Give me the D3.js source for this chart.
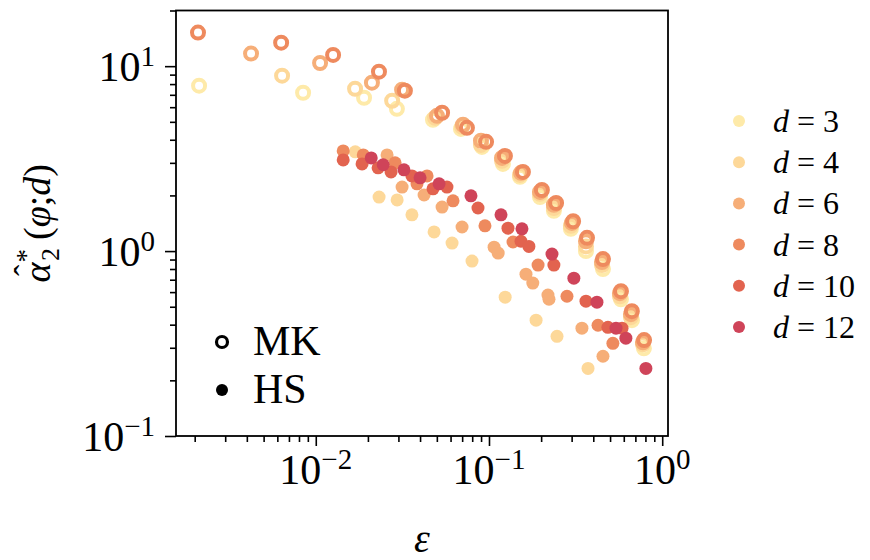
<!DOCTYPE html>
<html>
<head>
<meta charset="utf-8">
<script src="https://cdn.jsdelivr.net/npm/d3@7"></script>
<style>
  body { margin: 0; background: #fff; }
  svg text { font-family: "Liberation Serif", "DejaVu Serif", serif; fill: #000; }
</style>
</head>
<body>
<div id="chart"></div>
<script>
const WIDTH = 870, HEIGHT = 560;
const PLOT = { left: 176, right: 668, top: 10.5, bottom: 436 };

// dimension values and their colours
const D_VALUES = [3, 4, 6, 8, 10, 12];
const D_COLORS = ["#feeaa9", "#fdd899", "#f6ae78", "#ee8a5e", "#e2634f", "#cf4459"];

// MK estimator (open rings)
const mkEpsD3   = [0.00212, 0.00845, 0.0190, 0.0294, 0.0475, 0.0689, 0.0911, 0.1204, 0.151, 0.197, 0.237, 0.297, 0.363, 0.455, 0.578, 0.669, 0.784];
const mkAlphaD3 = [7.84, 7.18, 6.75, 5.88, 5.13, 4.58, 3.66, 2.96, 2.52, 1.96, 1.65, 1.32, 1.00, 0.799, 0.549, 0.423, 0.298];
const mkEpsD4   = [0.00639, 0.01686, 0.0276, 0.0488, 0.0699, 0.0899, 0.1189, 0.151, 0.197, 0.237, 0.297, 0.363, 0.449, 0.570, 0.660, 0.774];
const mkAlphaD4 = [8.88, 7.55, 6.50, 5.26, 4.70, 3.75, 3.08, 2.58, 2.04, 1.71, 1.37, 1.06, 0.840, 0.570, 0.439, 0.313];
const mkEpsD6   = [0.00423, 0.01059, 0.0211, 0.0315, 0.0501, 0.0708, 0.0899, 0.1189, 0.153, 0.197, 0.237, 0.301, 0.363, 0.449, 0.570, 0.660, 0.774];
const mkAlphaD6 = [11.7, 10.4, 8.14, 7.46, 5.39, 4.82, 3.95, 3.19, 2.65, 2.09, 1.78, 1.42, 1.13, 0.872, 0.592, 0.456, 0.321];
const mkEpsD8   = [0.00209, 0.00631, 0.01259, 0.02317, 0.0327, 0.0536, 0.0746, 0.0962, 0.1236, 0.157, 0.202, 0.244, 0.306, 0.368, 0.455, 0.578, 0.668, 0.786];
const mkAlphaD8 = [15.2, 13.4, 11.5, 9.34, 7.37, 5.60, 4.64, 3.90, 3.27, 2.68, 2.14, 1.82, 1.45, 1.18, 0.905, 0.607, 0.473, 0.330];

// HS estimator (filled dots)
const hsEpsD4    = [0.0169, 0.0232, 0.0295, 0.0359, 0.0482, 0.0612, 0.0798, 0.124, 0.187, 0.247, 0.373];
const hsAlphaD4  = [3.44, 1.96, 1.89, 1.57, 1.27, 1.105, 0.883, 0.563, 0.423, 0.346, 0.232];
const hsEpsD6    = [0.0258, 0.0315, 0.0422, 0.0536, 0.0699, 0.107, 0.113, 0.1635, 0.179, 0.219, 0.222, 0.344, 0.455];
const hsAlphaD6  = [3.31, 2.22, 2.01, 1.73, 1.35, 1.05, 0.975, 0.750, 0.671, 0.578, 0.549, 0.383, 0.270];
const hsEpsD8    = [0.0144, 0.0188, 0.0287, 0.0384, 0.0439, 0.0620, 0.0948, 0.1376, 0.192, 0.282, 0.426, 0.519];
const hsAlphaD8  = [3.48, 3.31, 3.00, 2.31, 2.55, 1.87, 1.37, 1.12, 0.840, 0.570, 0.397, 0.317];
const hsEpsD10   = [0.0144, 0.0185, 0.0229, 0.0272, 0.0359, 0.0475, 0.0572, 0.0864, 0.1287, 0.153, 0.170, 0.237, 0.363, 0.486, 0.586];
const hsAlphaD10 = [3.11, 2.96, 2.82, 2.68, 2.55, 2.17, 2.22, 1.71, 1.33, 1.13, 1.06, 0.840, 0.536, 0.387, 0.383];
const hsEpsD12   = [0.0209, 0.0245, 0.0323, 0.0400, 0.0515, 0.0787, 0.1173, 0.155, 0.231, 0.309, 0.420, 0.541, 0.617, 0.805];
const hsAlphaD12 = [3.19, 2.93, 2.75, 2.49, 2.31, 1.99, 1.57, 1.32, 0.963, 0.714, 0.529, 0.383, 0.338, 0.232];

// tick labels (10^exp)
const X_MAJOR = [1e-2, 1e-1, 1];
const X_EXP = ["\u22122", "\u22121", "0"];
const Y_MAJOR = [1e-1, 1, 10];
const Y_EXP = ["\u22121", "0", "1"];

const colorOf = d => D_COLORS[D_VALUES.indexOf(d)];
const zip = (d, xs, ys) => xs.map((x, i) => ({ d, eps: x, alpha: ys[i] }));

const mkData = [].concat(
    zip(3, mkEpsD3, mkAlphaD3), zip(4, mkEpsD4, mkAlphaD4),
    zip(6, mkEpsD6, mkAlphaD6), zip(8, mkEpsD8, mkAlphaD8));
const hsData = [].concat(
    zip(4, hsEpsD4, hsAlphaD4), zip(6, hsEpsD6, hsAlphaD6), zip(8, hsEpsD8, hsAlphaD8),
    zip(10, hsEpsD10, hsAlphaD10), zip(12, hsEpsD12, hsAlphaD12));

const svg = d3.select("#chart").append("svg")
    .attr("width", WIDTH).attr("height", HEIGHT)
    .attr("viewBox", `0 0 ${WIDTH} ${HEIGHT}`);

// scales
const x = d3.scaleLog().domain([0.00156, 1.08]).range([PLOT.left, PLOT.right]);
const y = d3.scaleLog().domain([0.1, 20]).range([PLOT.bottom, PLOT.top]);

const minorOf = (scale, majors) => scale.ticks(20).filter(v => !majors.some(m => Math.abs(m - v) / m < 1e-6));

// --- Axes ---
function styleAxis(g) {
    g.select(".domain").remove();
    g.selectAll("line").attr("stroke", "#000").attr("stroke-width", 1.6);
}
svg.append("g").attr("transform", `translate(0,${PLOT.bottom})`)
    .call(d3.axisBottom(x).tickValues(X_MAJOR).tickSize(10).tickFormat("")).call(styleAxis);
svg.append("g").attr("transform", `translate(0,${PLOT.bottom})`)
    .call(d3.axisBottom(x).tickValues(minorOf(x, X_MAJOR)).tickSize(6).tickFormat("")).call(styleAxis);
svg.append("g").attr("transform", `translate(${PLOT.left},0)`)
    .call(d3.axisLeft(y).tickValues(Y_MAJOR).tickSize(11).tickFormat("")).call(styleAxis);
svg.append("g").attr("transform", `translate(${PLOT.left},0)`)
    .call(d3.axisLeft(y).tickValues(minorOf(y, Y_MAJOR)).tickSize(6).tickFormat("")).call(styleAxis);

// tick labels
X_MAJOR.forEach((v, i) => {
    const t = svg.append("text").attr("x", x(v)).attr("y", 484)
        .attr("text-anchor", "middle").style("font-size", "42px");
    t.append("tspan").text("10");
    t.append("tspan").attr("dy", -15).style("font-size", "29px").text(X_EXP[i]);
});
Y_MAJOR.forEach((v, i) => {
    const t = svg.append("text").attr("x", 155).attr("y", y(v) + 15)
        .attr("text-anchor", "end").style("font-size", "42px");
    t.append("tspan").text("10");
    t.append("tspan").attr("dy", -15).style("font-size", "29px").text(Y_EXP[i]);
});

// --- Markers ---
svg.append("g").selectAll("circle")
    .data(mkData)
    .join("circle")
    .attr("cx", d => x(d.eps))
    .attr("cy", d => y(d.alpha))
    .attr("r", 6)
    .attr("fill", "none")
    .attr("stroke", d => colorOf(d.d))
    .attr("stroke-width", 4);

svg.append("g").selectAll("circle")
    .data(hsData)
    .join("circle")
    .attr("cx", d => x(d.eps))
    .attr("cy", d => y(d.alpha))
    .attr("r", 6.5)
    .attr("fill", d => colorOf(d.d));

// frame
svg.append("rect")
    .attr("x", PLOT.left).attr("y", PLOT.top)
    .attr("width", PLOT.right - PLOT.left).attr("height", PLOT.bottom - PLOT.top)
    .attr("fill", "none").attr("stroke", "#000").attr("stroke-width", 1.8);

// --- Axis labels ---
svg.append("text")
    .attr("x", (PLOT.left + PLOT.right) / 2).attr("y", 552)
    .attr("text-anchor", "middle")
    .style("font-size", "40px").style("font-style", "italic")
    .text("\u03b5");

const ylG = svg.append("g")
    .attr("transform", `translate(50,${(PLOT.top + PLOT.bottom) / 2}) rotate(-90)`);
const yl = ylG.append("text")
    .attr("text-anchor", "middle")
    .style("font-size", "38px");
yl.append("tspan").style("font-style", "italic").text("\u03b1");
yl.append("tspan").attr("dy", -15).style("font-size", "27px").text("*");
yl.append("tspan").attr("dx", -12).attr("dy", 24).style("font-size", "26px").text("2");
yl.append("tspan").attr("dx", 8).attr("dy", -9).text("(");
yl.append("tspan").style("font-style", "italic").text("\u03c6");
yl.append("tspan").text(";");
yl.append("tspan").style("font-style", "italic").text("d");
yl.append("tspan").text(")");

// hat over alpha
const ext = yl.node().getExtentOfChar(0);
ylG.append("text")
    .attr("x", ext.x + ext.width / 2 + 2)
    .attr("y", ext.y + ext.height * 0.52)
    .attr("text-anchor", "middle")
    .style("font-size", "34px")
    .text("\u02c6");

// --- Legend: estimators ---
const est = svg.append("g");
est.append("circle").attr("cx", 222).attr("cy", 342).attr("r", 5.5)
    .attr("fill", "none").attr("stroke", "#000").attr("stroke-width", 3.2);
est.append("text").attr("x", 253).attr("y", 355).style("font-size", "42px").text("MK");
est.append("circle").attr("cx", 222).attr("cy", 390).attr("r", 6).attr("fill", "#000");
est.append("text").attr("x", 253).attr("y", 403).style("font-size", "42px").text("HS");

// --- Legend: dimensions ---
const legend = svg.append("g").attr("transform", "translate(739,121)");
D_VALUES.forEach((dv, i) => {
    const row = legend.append("g").attr("transform", `translate(0,${i * 41.2})`);
    row.append("circle").attr("r", 6).attr("fill", D_COLORS[i]);
    const t = row.append("text").attr("x", 34).attr("y", 11).style("font-size", "32px");
    t.append("tspan").style("font-style", "italic").text("d");
    t.append("tspan").attr("dx", 8).text("=");
    t.append("tspan").attr("dx", 8).text(dv);
});
</script>
</body>
</html>
